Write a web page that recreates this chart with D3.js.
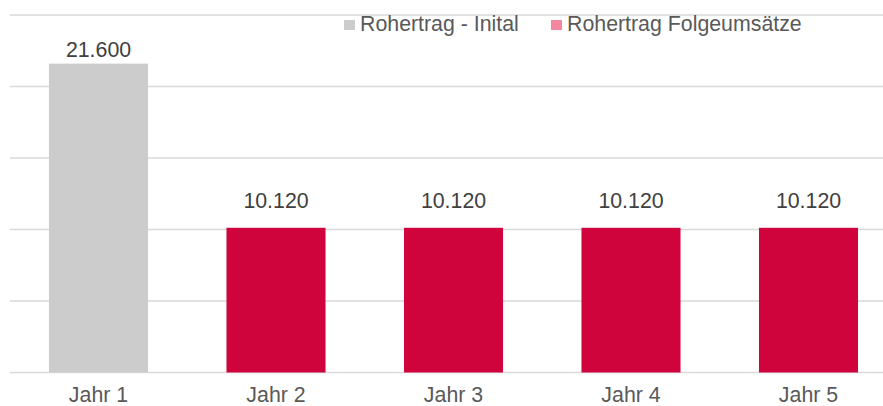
<!DOCTYPE html>
<html><head><meta charset="utf-8">
<script src="https://cdn.jsdelivr.net/npm/d3@7"></script>
<style>body{margin:0;background:#fff}svg{display:block;font-family:"Liberation Sans",Arial,sans-serif}</style>
</head><body><svg id="c" width="883" height="406"></svg>
<script>
const categories = ["Jahr 1","Jahr 2","Jahr 3","Jahr 4","Jahr 5"];
const seriesNames = ["Rohertrag - Inital","Rohertrag Folgeumsätze"];
const initial = [21600, null, null, null, null];
const followUp = [null, 10120, 10120, 10120, 10120];
const yTicks = [0, 5000, 10000, 15000, 20000, 25000];
const colors = ["#cccccc", "#d0043c"];
const legendColors = ["#cccccc", "#f4879f"];

const FS = 21.33;
const svg = d3.select("#c");
const x = d3.scaleBand().domain(categories).range([9.75, 897.25]).paddingInner(0.442).paddingOuter(0.221);
const y = d3.scaleLinear().domain([0, 25000]).range([372.5, 15]);

// gridlines
svg.append("g").selectAll("line").data(yTicks).join("line")
  .attr("x1", 10).attr("x2", 883)
  .attr("y1", d => y(d)).attr("y2", d => y(d))
  .attr("stroke", "#d9d9d9").attr("stroke-width", 1.5);

const fmt = v => d3.format(",.0f")(v).replace(/,/g, ".");
const data = categories.map((c, i) => ({c, v: initial[i] != null ? initial[i] : followUp[i], s: initial[i] != null ? 0 : 1}));

svg.append("g").selectAll("rect").data(data).join("rect")
  .attr("x", d => x(d.c)).attr("width", x.bandwidth())
  .attr("y", d => y(d.v)).attr("height", d => y(0) - y(d.v))
  .attr("fill", d => colors[d.s]);

svg.append("g").selectAll("text").data(data).join("text")
  .attr("x", d => x(d.c) + x.bandwidth()/2).attr("y", d => Math.max(y(d.v) - 20, 56.5))
  .attr("text-anchor", "middle").attr("font-size", FS).attr("fill", "#404040")
  .text(d => fmt(d.v));

// x axis labels
const xAxis = d3.axisBottom(x).tickSize(0).tickPadding(0);
const gx = svg.append("g").attr("transform", "translate(0,372.5)").call(xAxis);
gx.select(".domain").remove();
gx.selectAll("text").attr("font-size", FS).attr("fill", "#595959").attr("dy", "29").attr("font-family", "Liberation Sans, Arial, sans-serif");

// legend
const leg = [{n: seriesNames[0], c: legendColors[0], x: 344}, {n: seriesNames[1], c: legendColors[1], x: 551}];
const lg = svg.append("g").selectAll("g").data(leg).join("g").attr("transform", d => `translate(${d.x},20)`);
lg.append("rect").attr("width", 11).attr("height", 10).attr("fill", d => d.c);
lg.append("text").attr("x", 16).attr("y", 11).attr("font-size", FS).attr("fill", "#595959").text(d => d.n);
</script></body></html>
